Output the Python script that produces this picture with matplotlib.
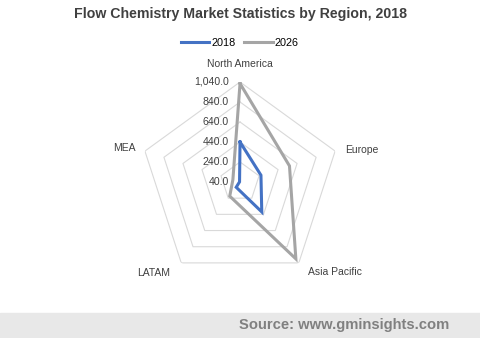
import numpy as np
import matplotlib.pyplot as plt

plt.rcParams['font.family'] = ['Liberation Sans', 'DejaVu Sans']

regions = ['North America', 'Europe', 'Asia Pacific', 'LATAM', 'MEA']
values_2018 = [440, 260, 410, 105, 45]
values_2026 = [1025, 560, 990, 215, 115]
ring_values = [40, 240, 440, 640, 840, 1040]
ring_labels = ['40.0', '240.0', '440.0', '640.0', '840.0', '1,040.0']

# label offsets (points) for each category around the outer ring
label_offsets = [(0, 9), (7, 1), (26, -3), (-20, -4), (-7, 2)]
label_align = [('center', 'bottom'), ('left', 'center'), ('center', 'top'),
               ('center', 'top'), ('right', 'center')]

fig = plt.figure(figsize=(4.8, 3.38), dpi=100)
ax = fig.add_axes([0.2917, 0.1657, 0.4167, 0.5917], projection='polar')
ax.set_theta_offset(np.pi / 2)
ax.set_theta_direction(-1)
ax.set_rlim(ring_values[0], ring_values[-1])
ax.grid(False)
ax.spines['polar'].set_visible(False)
ax.set_xticks([])
ax.set_yticks([])
ax.patch.set_alpha(0)

angles = np.linspace(0, 2 * np.pi, len(regions), endpoint=False)
closed = np.append(angles, angles[0])

# pentagon gridlines
for v in ring_values[1:]:
    ax.plot(closed, [v] * len(closed), color='#d9d9d9', lw=0.8, zorder=1)

ax.plot(closed, values_2018 + values_2018[:1], color='#4472C4', lw=2.2,
        label='2018', zorder=3, solid_joinstyle='miter')
ax.plot(closed, values_2026 + values_2026[:1], color='#A5A5A5', lw=2.2,
        label='2026', zorder=2, solid_joinstyle='miter')

for v, lab in zip(ring_values, ring_labels):
    ax.annotate(lab, xy=(0, v), xytext=(-8, 0), textcoords='offset points',
                ha='right', va='center', fontsize=7.6, color='#404040')

for a, name, off, (ha, va) in zip(angles, regions, label_offsets, label_align):
    ax.annotate(name, xy=(a, ring_values[-1]), xytext=off,
                textcoords='offset points', ha=ha, va=va,
                fontsize=7.5, color='#404040', annotation_clip=False)

fig.text(0.5, 0.96, 'Flow Chemistry Market Statistics by Region, 2018',
         ha='center', va='center', fontsize=10.2, fontweight='bold', color='#404040')

fig.legend(loc='center', bbox_to_anchor=(0.5, 0.872), ncol=2, frameon=False,
           fontsize=7.8, handlelength=2.6, handletextpad=0.2, columnspacing=0.8)

# source bar at the bottom
fig.patches.append(plt.Rectangle((0, 0), 1, 25 / 338, transform=fig.transFigure,
                                 color='#e8e8e8', zorder=0))
fig.text(0.935, 12.5 / 338, 'Source: www.gminsights.com', ha='right', va='center',
         fontsize=10.6, fontweight='bold', color='#808080')

fig.savefig('out.png', dpi=100)
